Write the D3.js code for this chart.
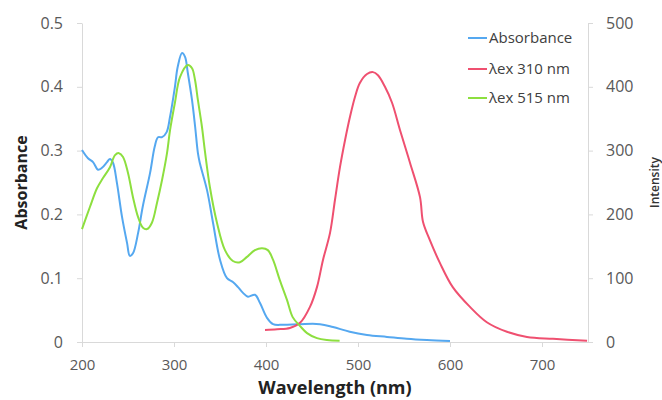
<!DOCTYPE html>
<html>
<head>
<meta charset="utf-8">
<script src="https://cdn.jsdelivr.net/npm/d3@7"></script>
<style>
  body { margin: 0; background: #fff; }
  text { font-family: "Open Sans", sans-serif; }
</style>
</head>
<body>
<div id="chart"></div>
<script>
// wavelength (nm) / value pairs
const absWl = [200, 206.5, 212, 217.4, 221.7, 227.2, 230.4, 233.7, 238, 243.5, 249, 252, 255.4, 261, 266, 274, 279, 282.6, 287, 292, 295.7, 301, 304, 308.7, 312, 315, 319.6, 323, 326, 328, 335.9, 342.4, 350, 357.6, 364, 369.6, 375, 380.4, 388, 393.5, 401, 407.6, 418.5, 437, 458.7, 472.8, 491, 509.8, 531.5, 553, 575, 600];
const absVal = [0.301, 0.288, 0.282, 0.270, 0.273, 0.282, 0.287, 0.281, 0.249, 0.196, 0.155, 0.135, 0.139, 0.171, 0.212, 0.265, 0.306, 0.321, 0.321, 0.329, 0.353, 0.400, 0.431, 0.453, 0.447, 0.422, 0.379, 0.337, 0.296, 0.281, 0.238, 0.187, 0.129, 0.100, 0.094, 0.086, 0.077, 0.071, 0.074, 0.061, 0.038, 0.028, 0.027, 0.028, 0.028, 0.0235, 0.016, 0.011, 0.008, 0.005, 0.003, 0.0015];

const ex310Wl = [398.9, 412, 426, 437, 447.8, 455.4, 462, 469.6, 475, 480.4, 486, 491.3, 496.7, 502, 509.8, 516.3, 521.7, 529.3, 537, 545.7, 556.5, 567.4, 570.7, 578, 589, 603, 621.7, 640, 661.9, 683.7, 712, 749];
const ex310Val = [19, 20, 22, 30, 55, 86, 129, 171, 223, 274, 317, 353, 384, 406, 420, 423, 418, 400, 375, 332, 281, 227, 188, 160, 124, 86, 55, 31, 16, 8, 5, 2];

const ex515Wl = [200, 208.7, 216.3, 222.8, 230.4, 235.9, 240.2, 244.6, 250, 255.4, 260.9, 266.3, 270.7, 276, 281.5, 287, 292.4, 295.7, 301, 306.5, 315, 319.6, 322.8, 326, 330.4, 333.7, 339, 346.7, 355.4, 364, 371.7, 379, 388, 395.7, 402, 407.6, 415, 422.8, 429, 437, 444.6, 455.4, 466.3, 480];
const ex515Val = [177, 212, 241, 257, 274, 293, 296, 290, 265, 227, 196, 179, 177, 187, 218, 254, 296, 332, 375, 415, 434, 429, 411, 379, 337, 298, 243, 187, 144, 127, 125, 133, 144, 147, 144, 129, 97, 66, 39, 25, 14, 6, 3, 2];

const xTicks = [200, 300, 400, 500, 600, 700];
const absTicks = [0, 0.1, 0.2, 0.3, 0.4, 0.5];
const intTicks = [0, 100, 200, 300, 400, 500];

const seriesNames = ["Absorbance", "λex 310 nm", "λex 515 nm"];
const seriesColors = ["#55a8f0", "#ef5070", "#8ddf3f"];

const W = 662, H = 400;
const margin = { top: 23, right: 74, bottom: 58, left: 82 };
const iw = W - margin.left - margin.right;
const ih = H - margin.top - margin.bottom;

const svg = d3.select("#chart").append("svg")
  .attr("width", W)
  .attr("height", H);

const g = svg.append("g")
  .attr("transform", `translate(${margin.left},${margin.top})`);

const x = d3.scaleLinear().domain([200, 750]).range([0, iw]);
const yAbs = d3.scaleLinear().domain([0, 0.5]).range([ih, 0]);
const yInt = d3.scaleLinear().domain([0, 500]).range([ih, 0]);

function styleAxis(sel, size) {
  sel.select(".domain").attr("stroke", "#d9d9d9");
  sel.selectAll(".tick line").attr("stroke", "#d9d9d9");
  sel.selectAll(".tick text")
    .attr("fill", "#595959")
    .style("font-size", size || "16px");
}

g.append("g")
  .attr("transform", `translate(0,${ih})`)
  .call(d3.axisBottom(x).tickValues(xTicks).tickSize(5).tickSizeOuter(0).tickPadding(12))
  .call(styleAxis, "15px");

g.append("g")
  .call(d3.axisLeft(yAbs).tickValues(absTicks).tickSize(5).tickSizeOuter(0).tickPadding(14)
    .tickFormat(d3.format("~g")))
  .call(styleAxis);

g.append("g")
  .attr("transform", `translate(${iw},0)`)
  .call(d3.axisRight(yInt).tickValues(intTicks).tickSize(5).tickSizeOuter(0).tickPadding(13))
  .call(styleAxis);

const series = [
  { wl: absWl, val: absVal, y: yAbs },
  { wl: ex310Wl, val: ex310Val, y: yInt },
  { wl: ex515Wl, val: ex515Val, y: yInt },
];

series.forEach((s, i) => {
  const line = d3.line()
    .x((d) => x(d))
    .y((d, j) => s.y(s.val[j]))
    .curve(d3.curveCatmullRom);
  g.append("path")
    .attr("d", line(s.wl))
    .attr("fill", "none")
    .attr("stroke", seriesColors[i])
    .attr("stroke-width", 2);
});

// axis titles
svg.append("text")
  .attr("x", margin.left + iw / 2)
  .attr("y", 394)
  .attr("text-anchor", "middle")
  .style("font-size", "18px")
  .style("font-weight", "bold")
  .attr("fill", "#222")
  .text("Wavelength (nm)");

svg.append("text")
  .attr("transform", `translate(27,${margin.top + ih / 2}) rotate(-90)`)
  .attr("text-anchor", "middle")
  .style("font-size", "16px")
  .style("font-weight", "bold")
  .attr("fill", "#222")
  .text("Absorbance");

svg.append("text")
  .attr("transform", `translate(659,${margin.top + ih / 2}) rotate(-90)`)
  .attr("text-anchor", "middle")
  .style("font-size", "12px")
  .style("font-weight", 600)
  .attr("fill", "#333")
  .text("Intensity");

// legend
const legendY = [38, 69, 98];
const legend = svg.append("g");
seriesNames.forEach((name, i) => {
  legend.append("line")
    .attr("x1", 468).attr("x2", 487)
    .attr("y1", legendY[i]).attr("y2", legendY[i])
    .attr("stroke", seriesColors[i])
    .attr("stroke-width", 2);
  legend.append("text")
    .attr("x", 489)
    .attr("y", legendY[i])
    .attr("dy", "0.35em")
    .style("font-size", "15px")
    .attr("fill", "#404040")
    .text(name);
});
</script>
</body>
</html>
